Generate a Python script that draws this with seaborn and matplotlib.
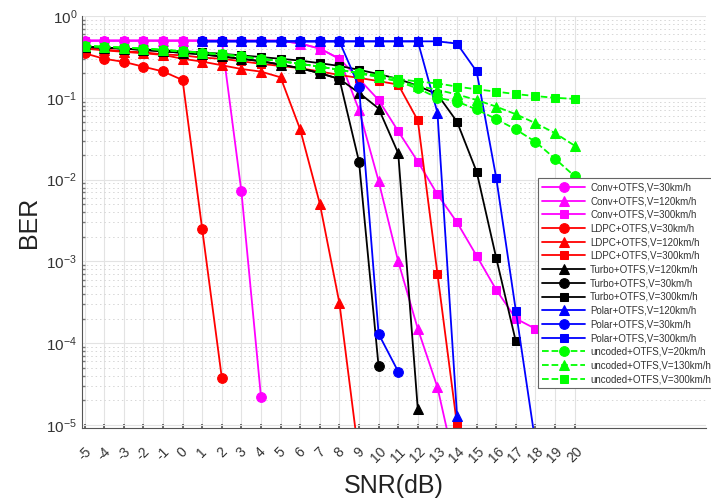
import numpy as np
import pandas as pd
import seaborn as sns
import matplotlib.pyplot as plt
from matplotlib.ticker import LogLocator, NullFormatter

# ---- data (SNR in dB, BER) ----
conv30_x = [-5, -4, -3, -2, -1, 0, 1, 2, 3, 4]
conv30_y = [0.5, 0.5, 0.5, 0.5, 0.5, 0.5, 0.5, 0.5, 7.2e-3, 2.2e-5]

conv120_x = [-5, -4, -3, -2, -1, 0, 1, 2, 3, 4, 5, 6, 7, 8, 9, 10, 11, 12, 13, 14]
conv120_y = [0.5, 0.5, 0.5, 0.5, 0.5, 0.5, 0.5, 0.5, 0.5, 0.5, 0.5, 0.46, 0.40, 0.30,
             0.071, 9.6e-3, 1.0e-3, 1.5e-4, 2.9e-5, 2.5e-6]

conv300_x = [-5, -4, -3, -2, -1, 0, 1, 2, 3, 4, 5, 6, 7, 8, 9, 10, 11, 12, 13, 14, 15, 16, 17, 18]
conv300_y = [0.5, 0.5, 0.5, 0.5, 0.5, 0.5, 0.5, 0.5, 0.5, 0.5, 0.5, 0.46, 0.40, 0.30,
             0.17, 0.094, 0.039, 0.0166, 6.6e-3, 3.0e-3, 1.17e-3, 4.5e-4, 2.0e-4, 1.5e-4]

ldpc30_x = [-5, -4, -3, -2, -1, 0, 1, 2]
ldpc30_y = [0.35, 0.30, 0.275, 0.24, 0.21, 0.165, 2.5e-3, 3.8e-5]

ldpc120_x = [-5, -4, -3, -2, -1, 0, 1, 2, 3, 4, 5, 6, 7, 8, 9]
ldpc120_y = [0.40, 0.38, 0.365, 0.35, 0.335, 0.30, 0.277, 0.25, 0.225, 0.209, 0.178,
             0.041, 5.1e-3, 3.1e-4, 4e-6]

ldpc300_x = [-5, -4, -3, -2, -1, 0, 1, 2, 3, 4, 5, 6, 7, 8, 9, 10, 11, 12, 13, 14]
ldpc300_y = [0.40, 0.39, 0.37, 0.36, 0.34, 0.33, 0.31, 0.30, 0.28, 0.26, 0.245, 0.23,
             0.21, 0.19, 0.175, 0.16, 0.145, 0.053, 7.1e-4, 1.0e-5]

turbo120_x = [-5, -4, -3, -2, -1, 0, 1, 2, 3, 4, 5, 6, 7, 8, 9, 10, 11, 12]
turbo120_y = [0.42, 0.41, 0.40, 0.385, 0.37, 0.355, 0.34, 0.32, 0.30, 0.28, 0.255, 0.23,
              0.20, 0.17, 0.115, 0.074, 0.021, 1.55e-5]

turbo30_x = [-5, -4, -3, -2, -1, 0, 1, 2, 3, 4, 5, 6, 7, 8, 9, 10]
turbo30_y = [0.42, 0.41, 0.40, 0.385, 0.37, 0.355, 0.34, 0.32, 0.30, 0.28, 0.255, 0.23,
             0.20, 0.17, 0.0166, 5.2e-5]

turbo300_x = [-5, -4, -3, -2, -1, 0, 1, 2, 3, 4, 5, 6, 7, 8, 9, 10, 11, 12, 13, 14, 15, 16, 17]
turbo300_y = [0.42, 0.41, 0.40, 0.39, 0.38, 0.37, 0.36, 0.345, 0.33, 0.315, 0.30, 0.285,
              0.265, 0.245, 0.22, 0.195, 0.17, 0.14, 0.11, 0.051, 0.0125, 1.1e-3, 1.05e-4]

polar120_x = [1, 2, 3, 4, 5, 6, 7, 8, 9, 10, 11, 12, 13, 14]
polar120_y = [0.49, 0.49, 0.49, 0.49, 0.49, 0.49, 0.49, 0.49, 0.49, 0.49, 0.49, 0.49,
              0.066, 1.3e-5]

polar30_x = [1, 2, 3, 4, 5, 6, 7, 8, 9, 10, 11]
polar30_y = [0.49, 0.49, 0.49, 0.49, 0.49, 0.49, 0.49, 0.49, 0.137, 1.3e-4, 4.5e-5]

polar300_x = [1, 2, 3, 4, 5, 6, 7, 8, 9, 10, 11, 12, 13, 14, 15, 16, 17, 18]
polar300_y = [0.49, 0.49, 0.49, 0.49, 0.49, 0.49, 0.49, 0.49, 0.49, 0.49, 0.49, 0.49,
              0.49, 0.46, 0.21, 0.0105, 2.5e-4, 6e-6]

unc_x = [-5, -4, -3, -2, -1, 0, 1, 2, 3, 4, 5, 6, 7, 8, 9, 10, 11, 12, 13, 14, 15, 16, 17, 18, 19, 20]
unc20_y = [0.43, 0.42, 0.41, 0.40, 0.385, 0.37, 0.355, 0.34, 0.32, 0.30, 0.28, 0.26, 0.24,
           0.22, 0.20, 0.18, 0.158, 0.13, 0.10, 0.09, 0.072, 0.055, 0.041, 0.029, 0.018, 0.011]
unc130_y = [0.43, 0.42, 0.41, 0.40, 0.385, 0.37, 0.355, 0.34, 0.32, 0.30, 0.28, 0.26, 0.24,
            0.22, 0.20, 0.18, 0.16, 0.14, 0.125, 0.11, 0.094, 0.078, 0.063, 0.049, 0.037, 0.026]
unc300_y = [0.43, 0.42, 0.41, 0.40, 0.385, 0.37, 0.355, 0.34, 0.32, 0.30, 0.28, 0.26, 0.24,
            0.22, 0.20, 0.19, 0.17, 0.158, 0.15, 0.137, 0.127, 0.119, 0.111, 0.105, 0.100, 0.097]

series = [
    ("Conv+OTFS,V=30km/h", conv30_x, conv30_y, "#ff00ff", "o", "-"),
    ("Conv+OTFS,V=120km/h", conv120_x, conv120_y, "#ff00ff", "^", "-"),
    ("Conv+OTFS,V=300km/h", conv300_x, conv300_y, "#ff00ff", "s", "-"),
    ("LDPC+OTFS,V=30km/h", ldpc30_x, ldpc30_y, "#ff0000", "o", "-"),
    ("LDPC+OTFS,V=120km/h", ldpc120_x, ldpc120_y, "#ff0000", "^", "-"),
    ("LDPC+OTFS,V=300km/h", ldpc300_x, ldpc300_y, "#ff0000", "s", "-"),
    ("Turbo+OTFS,V=120km/h", turbo120_x, turbo120_y, "#000000", "^", "-"),
    ("Turbo+OTFS,V=30km/h", turbo30_x, turbo30_y, "#000000", "o", "-"),
    ("Turbo+OTFS,V=300km/h", turbo300_x, turbo300_y, "#000000", "s", "-"),
    ("Polar+OTFS,V=120km/h", polar120_x, polar120_y, "#0000ff", "^", "-"),
    ("Polar+OTFS,V=30km/h", polar30_x, polar30_y, "#0000ff", "o", "-"),
    ("Polar+OTFS,V=300km/h", polar300_x, polar300_y, "#0000ff", "s", "-"),
    ("uncoded+OTFS,V=20km/h", unc_x, unc20_y, "#00ff00", "o", "--"),
    ("uncoded+OTFS,V=130km/h", unc_x, unc130_y, "#00ff00", "^", "--"),
    ("uncoded+OTFS,V=300km/h", unc_x, unc300_y, "#00ff00", "s", "--"),
]

sns.set_theme(style="white")
plt.rcParams['font.family'] = ['Liberation Sans', 'DejaVu Sans']
plt.rcParams['mathtext.default'] = 'regular'

fig = plt.figure(figsize=(7.11, 5.04), dpi=100)
ax = fig.add_axes([82 / 711, 76 / 504, 624 / 711, 412 / 504])

for label, xs, ys, col, mk, ls in series:
    df = pd.DataFrame({"SNR": xs, "BER": ys})
    ms = 7 if mk == "o" else (7.5 if mk == "^" else 6)
    sns.lineplot(data=df, x="SNR", y="BER", ax=ax, color=col, marker=mk,
                 markersize=ms, markeredgecolor=col, markerfacecolor=col,
                 linewidth=1.3, linestyle=ls, label=label, sort=False)

ax.set_yscale('log')
ax.set_ylim(9.2e-6, 1)
ax.set_xlim(-5.13, 26.7)
xt = [-5, -4, -3, -2, -1, 0, 1, 2, 3, 4, 5, 6, 7, 8, 9, 10, 11, 12, 13, 14, 15, 16, 17, 18, 19, 20]
ax.set_xticks(xt)
ax.set_xticklabels([str(v) for v in xt], rotation=45, ha='center', fontsize=10, color='#333333')
ax.yaxis.set_major_locator(LogLocator(base=10, numticks=10))
ax.yaxis.set_minor_locator(LogLocator(base=10, subs=np.arange(2, 10), numticks=20))
ax.yaxis.set_minor_formatter(NullFormatter())
ax.tick_params(axis='y', which='major', labelsize=11, labelcolor='#333333', direction='in',
               length=4, color='#555555')
ax.tick_params(axis='y', which='minor', direction='in', length=2, color='#777777', left=True)
ax.tick_params(axis='x', direction='in', length=3, color='#555555', pad=12, bottom=True)

ax.grid(True, which='major', color='#e3e3e3', linewidth=0.8)
ax.grid(True, which='minor', axis='y', color='#d6d6d6', linestyle=(0, (1.5, 3)), linewidth=0.7)
ax.set_axisbelow(True)

for s in ['top', 'right']:
    ax.spines[s].set_visible(False)
for s in ['left', 'bottom']:
    ax.spines[s].set_color('#555555')
    ax.spines[s].set_linewidth(0.8)

ax.set_xlabel('SNR(dB)', fontsize=18, color='#222222', labelpad=6)
ax.set_ylabel('BER', fontsize=18, color='#222222', labelpad=4)

leg = ax.legend(loc='upper left', bbox_to_anchor=(538 / 711, 1 - 178 / 504),
                bbox_transform=fig.transFigure, fontsize=7, handlelength=4.4,
                labelspacing=0.38, borderaxespad=0, borderpad=0.45, frameon=True,
                fancybox=False, framealpha=1, edgecolor='#666666', handletextpad=0.5)
leg.get_frame().set_linewidth(0.8)
for t in leg.get_texts():
    t.set_color('#333333')

fig.savefig('out.png', dpi=100)
